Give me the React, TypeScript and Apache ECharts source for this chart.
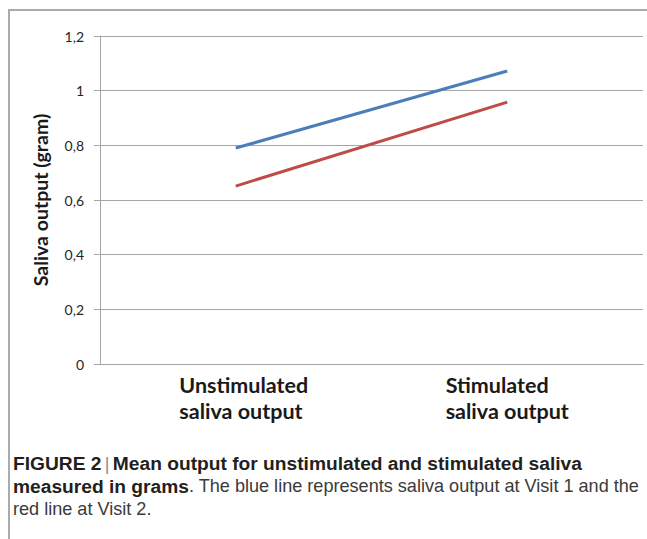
import React, { useEffect, useRef } from "react";
import * as echarts from "echarts";

const categories = ["Unstimulated\nsaliva output", "Stimulated\nsaliva output"];
const visit1 = [0.79, 1.072];
const visit2 = [0.651, 0.958];
const yTicks = { min: 0, max: 1.2, interval: 0.2 };
const yTitle = "Saliva output (gram)";

export default function App() {
  const ref = useRef<HTMLDivElement>(null);
  useEffect(() => {
    if (!ref.current) return;
    const chart = echarts.init(ref.current, null, { renderer: "svg" });
    const chartFont = "Lato, 'Noto Sans', sans-serif";
    const capFont = "'Liberation Sans', Arial, sans-serif";
    chart.setOption({
      animation: false,
      backgroundColor: "#ffffff",
      grid: { left: 100, right: 4, top: 36, bottom: 175 },
      xAxis: {
        type: "category",
        boundaryGap: true,
        data: categories.map((c, i) => ({
          value: c,
          textStyle: i === 0 ? { padding: [0, 0, 0, 16] } : { padding: [0, 0, 0, 0] },
        })),
        axisLine: { show: true, lineStyle: { color: "#a6a6a6", width: 1 } },
        axisTick: { show: false },
        axisLabel: {
          margin: 8,
          fontFamily: chartFont,
          fontWeight: "bold",
          fontSize: 21.5,
          color: "#1a1a1a",
          lineHeight: 26,
          align: "center",
          formatter: (v: string) =>
            v
              .split("\n")
              .map((s) => `{a|${s}}`)
              .join("\n"),
          rich: {
            a: {
              align: "left",
              fontFamily: chartFont,
              fontWeight: "bold",
              fontSize: 21.5,
              color: "#1a1a1a",
              lineHeight: 26,
            },
          },
        },
      },
      yAxis: {
        type: "value",
        min: yTicks.min,
        max: yTicks.max,
        interval: yTicks.interval,
        name: yTitle,
        nameLocation: "middle",
        nameGap: 50,
        nameTextStyle: {
          fontFamily: chartFont,
          fontWeight: "bold",
          fontSize: 19.5,
          color: "#1a1a1a",
        },
        axisLine: { show: true, lineStyle: { color: "#a6a6a6", width: 1 } },
        axisTick: { show: true, length: 6, lineStyle: { color: "#a6a6a6" } },
        axisLabel: {
          margin: 16,
          fontFamily: chartFont,
          fontSize: 14,
          color: "#262626",
          formatter: (v: number) => String(Number(v.toFixed(1))).replace(".", ","),
        },
        splitLine: { show: true, lineStyle: { color: "#a6a6a6", width: 1 } },
      },
      series: [
        {
          name: "Visit 1",
          type: "line",
          data: visit1,
          symbol: "none",
          lineStyle: { color: "#4A7EBB", width: 3 },
          itemStyle: { color: "#4A7EBB" },
        },
        {
          name: "Visit 2",
          type: "line",
          data: visit2,
          symbol: "none",
          lineStyle: { color: "#BE4B48", width: 3 },
          itemStyle: { color: "#BE4B48" },
        },
      ],
      graphic: [
        {
          type: "rect",
          silent: true,
          shape: { x: 9, y: 10, width: 700, height: 600 },
          style: { fill: "none", stroke: "#ababab", lineWidth: 2 },
          z: -1,
        },
        {
          type: "text",
          left: 13,
          top: 454,
          style: {
            text:
              "{b|FIGURE 2} {p||} {b|Mean output for unstimulated and stimulated saliva}\n" +
              "{b|measured in grams}{n|. The blue line represents saliva output at Visit 1 and the}\n" +
              "{n|red line at Visit 2.}",
            rich: {
              b: {
                fontFamily: capFont,
                fontWeight: "bold",
                fontSize: 19.2,
                lineHeight: 22.5,
                fill: "#231f20",
              },
              p: {
                fontFamily: capFont,
                fontSize: 18.1,
                lineHeight: 22.5,
                fill: "#8a8a8a",
              },
              n: {
                fontFamily: capFont,
                fontSize: 18.1,
                lineHeight: 22.5,
                fill: "#3a3a3a",
              },
            },
          },
        },
      ],
    });
    return () => chart.dispose();
  }, []);
  return (
    <div
      ref={ref}
      style={{ position: "fixed", left: 0, top: 0, width: 647, height: 539 }}
    />
  );
}
